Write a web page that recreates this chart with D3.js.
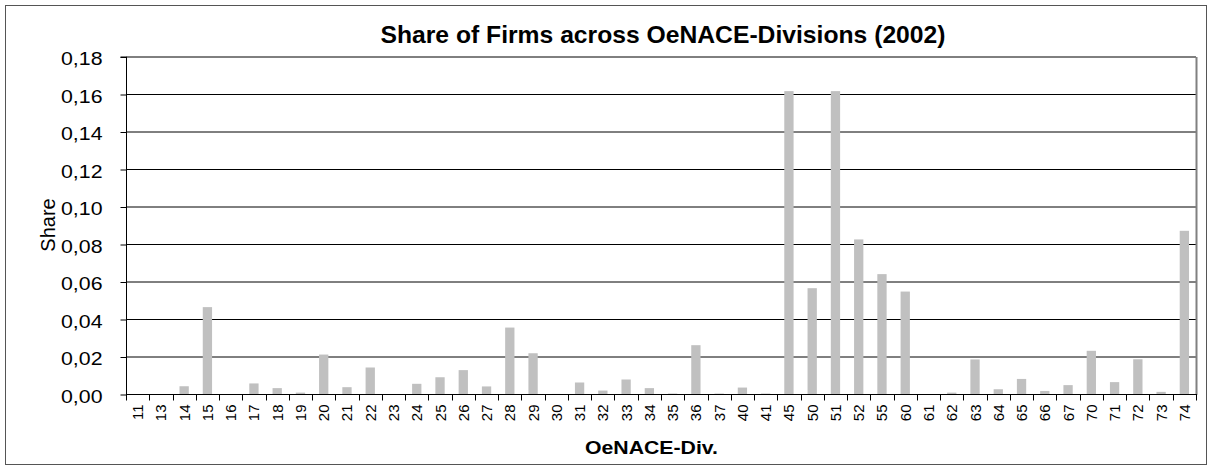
<!DOCTYPE html>
<html>
<head>
    <title>Share of Firms across OeNACE-Divisions (2002)</title>
    <style>
        body {
            margin: 0;
            background-color: white;
            font-family: "Liberation Sans", Arial, sans-serif;
        }
        .bar {
            fill: #c0c0c0;
        }
        text {
            fill: #000;
            font-family: "Liberation Sans", Arial, sans-serif;
        }
    </style>
</head>
<body>
    <div id="chart"></div>

    <script src="https://cdnjs.cloudflare.com/ajax/libs/d3/7.8.5/d3.min.js"></script>
    <script>
        // Data
        const divisions = ["11", "13", "14", "15", "16", "17", "18", "19", "20", "21",
            "22", "23", "24", "25", "26", "27", "28", "29", "30", "31",
            "32", "33", "34", "35", "36", "37", "40", "41", "45", "50",
            "51", "52", "55", "60", "61", "62", "63", "64", "65", "66",
            "67", "70", "71", "72", "73", "74"];
        const shares = [0, 0, 0.0044, 0.0466, 0, 0.0059, 0.0034, 0.001, 0.0213, 0.0039,
            0.0144, 0, 0.0057, 0.0092, 0.013, 0.0043, 0.0357, 0.022, 0.0003, 0.0064,
            0.0021, 0.008, 0.0034, 0.0005, 0.0263, 0.0005, 0.0037, 0.0005, 0.1618, 0.0567,
            0.1618, 0.0827, 0.0642, 0.0549, 0.0002, 0.001, 0.0187, 0.0028, 0.0083, 0.0019,
            0.005, 0.0233, 0.0066, 0.0188, 0.0014, 0.0873];
        const yTicks = [0, 0.02, 0.04, 0.06, 0.08, 0.10, 0.12, 0.14, 0.16, 0.18];

        const W = 1212, H = 470;
        const plot = {left: 126, right: 1196, top: 57, bottom: 394.5};

        const svg = d3.select("#chart")
            .append("svg")
            .attr("width", W)
            .attr("height", H);

        // outer frame
        svg.append("rect")
            .attr("x", 5.5).attr("y", 5.5)
            .attr("width", 1201).attr("height", 459)
            .attr("fill", "white")
            .attr("stroke", "#555")
            .attr("stroke-width", 1);

        const x = d3.scaleBand()
            .domain(divisions)
            .range([plot.left, plot.right])
            .paddingInner(0.6)
            .paddingOuter(0.3);

        const y = d3.scaleLinear()
            .domain([0, 0.18])
            .range([plot.bottom, plot.top]);

        // gridlines (unrounded, so every other one blurs grey like the original)
        svg.append("g")
            .selectAll("line")
            .data(yTicks.slice(1))
            .join("line")
            .attr("x1", plot.left)
            .attr("x2", plot.right)
            .attr("y1", d => y(d))
            .attr("y2", d => y(d))
            .attr("stroke", "#000")
            .attr("stroke-width", 1);

        // plot area right border
        svg.append("line")
            .attr("x1", plot.right + 0.5).attr("x2", plot.right + 0.5)
            .attr("y1", y(0.18)).attr("y2", y(0) + 0.5)
            .attr("stroke", "#808080")
            .attr("stroke-width", 2);

        // bars
        svg.append("g")
            .selectAll("rect")
            .data(shares)
            .join("rect")
            .attr("class", "bar")
            .attr("x", (d, i) => x(divisions[i]))
            .attr("width", x.bandwidth())
            .attr("y", d => y(d))
            .attr("height", d => y(0) - y(d));

        // y axis
        const yAxis = d3.axisLeft(y)
            .tickValues(yTicks)
            .tickFormat(d => d3.format(".2f")(d).replace(".", ","))
            .tickSize(6)
            .tickPadding(18);

        const gy = svg.append("g")
            .attr("transform", `translate(${plot.left + 0.5},0)`)
            .call(yAxis);
        gy.selectAll("path, line").attr("stroke", "#000");
        gy.select(".domain").attr("d", `M-6,${y(0.18)}H0V${y(0) + 0.5}`);
        gy.selectAll("text")
            .attr("font-size", "18.5px")
            .attr("dy", "7.5")
            .attr("textLength", 41.5)
            .attr("lengthAdjust", "spacingAndGlyphs");

        // x axis: ticks at category boundaries
        const boundaries = d3.range(divisions.length + 1)
            .map(i => plot.left + i * (plot.right - plot.left) / divisions.length);

        const gx = svg.append("g");
        gx.append("line")
            .attr("x1", plot.left).attr("x2", plot.right + 1)
            .attr("y1", y(0)).attr("y2", y(0))
            .attr("stroke", "#000");
        gx.selectAll(".tick")
            .data(boundaries)
            .join("line")
            .attr("class", "tick")
            .attr("x1", d => Math.round(d) + 0.5)
            .attr("x2", d => Math.round(d) + 0.5)
            .attr("y1", y(0))
            .attr("y2", y(0) + 6)
            .attr("stroke", "#000");
        gx.selectAll("text")
            .data(divisions)
            .join("text")
            .attr("transform", d => `translate(${x(d) + x.bandwidth() / 2 + 5.5},${y(0) + 10}) rotate(-90)`)
            .attr("text-anchor", "end")
            .attr("font-size", "15px")
            .text(d => d);

        // title and axis labels
        svg.append("text")
            .attr("x", 663)
            .attr("y", 43)
            .attr("text-anchor", "middle")
            .attr("font-size", "24px")
            .attr("font-weight", "bold")
            .attr("textLength", 565)
            .attr("lengthAdjust", "spacingAndGlyphs")
            .text("Share of Firms across OeNACE-Divisions (2002)");

        svg.append("text")
            .attr("x", 651.5)
            .attr("y", 454)
            .attr("text-anchor", "middle")
            .attr("font-size", "19px")
            .attr("font-weight", "bold")
            .attr("textLength", 133)
            .attr("lengthAdjust", "spacingAndGlyphs")
            .text("OeNACE-Div.");

        svg.append("text")
            .attr("transform", "translate(55,225) rotate(-90)")
            .attr("text-anchor", "middle")
            .attr("font-size", "20px")
            .text("Share");
    </script>
</body>
</html>
